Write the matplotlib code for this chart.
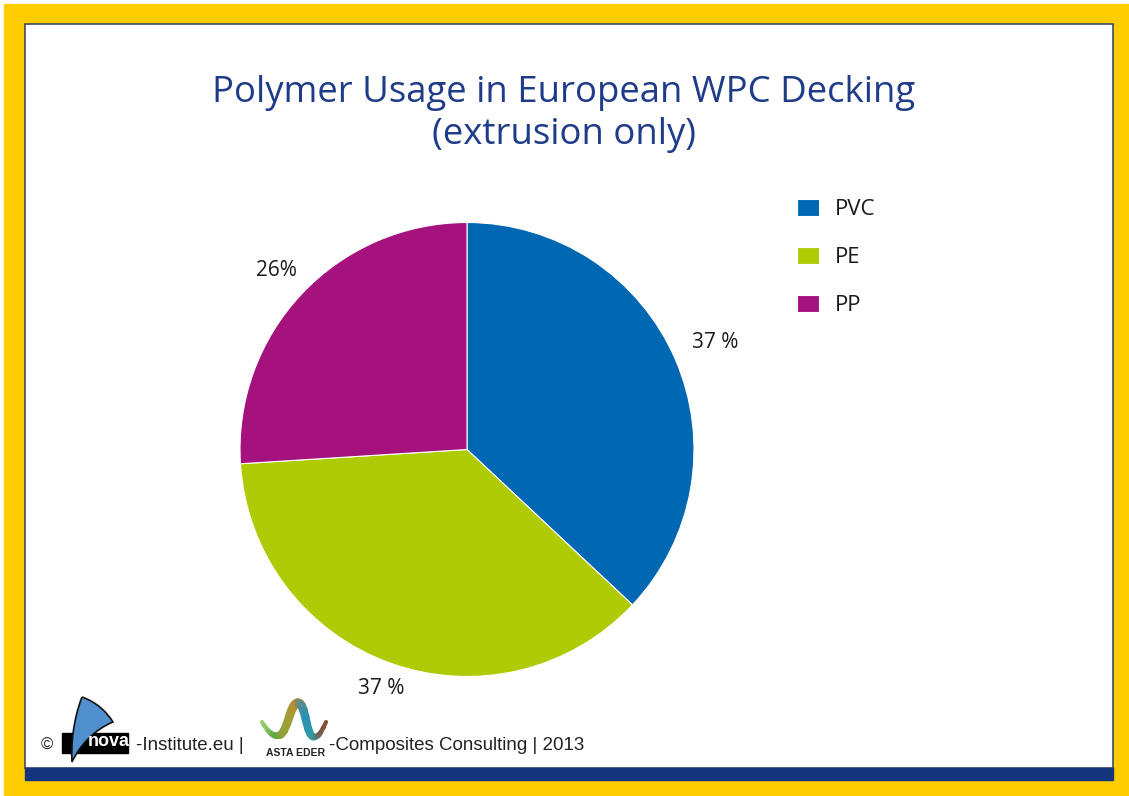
import matplotlib
matplotlib.use("Agg")
import matplotlib.pyplot as plt
import numpy as np
from matplotlib.patches import Rectangle, PathPatch
from matplotlib.collections import LineCollection
from matplotlib.path import Path
from matplotlib.colors import LinearSegmentedColormap

# ---- data ----
categories = ["PVC", "PE", "PP"]
shares = [37, 37, 26]
label_texts = ["37 %", "37 %", "26%"]
colors = ["#0068B3", "#AFCB05", "#A5127E"]
title = "Polymer Usage in European WPC Decking\n(extrusion only)"
footer_left = "-Institute.eu |"
footer_right = "-Composites Consulting | 2013"

W, H = 1129, 796
fig = plt.figure(figsize=(W / 100, H / 100), dpi=100)
fig.patch.set_facecolor("white")

# background / frame in pixel coordinates
bg = fig.add_axes([0, 0, 1, 1])
bg.set_xlim(0, W)
bg.set_ylim(H, 0)
bg.axis("off")
bg.add_patch(Rectangle((4, 4), W - 4, H - 4, color="#FFCC00", zorder=0))
bg.add_patch(Rectangle((25, 24), 1088, 744, facecolor="white",
                       edgecolor="#3b4a6b", lw=1.2, zorder=1))
bg.add_patch(Rectangle((25, 768), 1088, 12, color="#15367F", zorder=2))

# title
fig.text(564 / W, 1 - 114 / H, title, ha="center", va="center",
         fontsize=26.3, color="#1F3C88", family="Open Sans", linespacing=1.22)

# pie
cx, cy, r = 467, 449.5, 227
ax = fig.add_axes([(cx - r) / W, (H - cy - r) / H, 2 * r / W, 2 * r / H])
wedges, _ = ax.pie(shares, colors=colors, startangle=90, counterclock=False,
                   radius=1, wedgeprops=dict(linewidth=0.8, edgecolor="white"))
ax.set_xlim(-1, 1)
ax.set_ylim(-1, 1)
label_dist = [1.19, 1.12, 1.15]
for w, txt, d in zip(wedges, label_texts, label_dist):
    a = np.deg2rad((w.theta1 + w.theta2) / 2)
    ax.text(d * np.cos(a), d * np.sin(a), txt, ha="center", va="center",
            fontsize=15, color="#1a1a1a", family="Open Sans")

# legend
leg = fig.legend(wedges, categories, loc="upper left",
                 bbox_to_anchor=(797 / W, 1 - 199 / H), bbox_transform=fig.transFigure,
                 frameon=False, borderaxespad=0, borderpad=0,
                 handlelength=1.0, handleheight=0.8, handletextpad=0.7,
                 labelspacing=1.2, prop=dict(family="Open Sans", size=16))
for t in leg.get_texts():
    t.set_color("#1a1a1a")

# footer
ffam = ["Liberation Sans", "DejaVu Sans"]
fig.text(47 / W, 1 - 745 / H, "\u00a9", ha="center", va="center", fontsize=12,
         color="#222", family=ffam)
bg.add_patch(Rectangle((62, 733), 66, 20, color="black", zorder=3))
sail = Path([(82, 697), (96, 702), (106, 711), (113, 722),
             (94, 730), (80, 745), (72, 762),
             (71, 745), (73, 720), (82, 697)],
            [Path.MOVETO, Path.CURVE4, Path.CURVE4, Path.CURVE4,
             Path.CURVE4, Path.CURVE4, Path.CURVE4,
             Path.CURVE4, Path.CURVE4, Path.CURVE4])
bg.add_patch(PathPatch(sail, facecolor="#4F8FCE", edgecolor="#111", lw=1.2, zorder=4))
bg.text(109, 742, "nova", ha="center", va="center", color="white", fontsize=13,
        fontweight="bold", family=ffam, zorder=6)
bg.text(136, 745, footer_left, ha="left", va="center", fontsize=13.5, color="#222",
        family=ffam, zorder=5)

wave = Path([(262, 722), (268, 732), (274, 738), (280, 735),
             (288, 731), (290, 703), (298, 703),
             (306, 703), (306, 737), (314, 737),
             (320, 737), (323, 728), (326, 722)],
            [Path.MOVETO] + [Path.CURVE4] * 12)
pts = wave.to_polygons(closed_only=False)[0]
segs = np.stack([pts[:-1], pts[1:]], axis=1)
n = len(segs)
cmap = LinearSegmentedColormap.from_list(
    "asta", ["#9ccf6a", "#5aa845", "#9aa238", "#c08a2e", "#2a8fb5", "#2fa0a0", "#8a4a35"])
tpos = np.linspace(0, 1, n)
widths = 3.0 + 3.5 * np.sin(np.pi * tpos)
lc = LineCollection(segs, colors=cmap(tpos), linewidths=widths, capstyle="round", zorder=5)
bg.add_collection(lc)
bg.text(295, 753, "ASTA EDER", ha="center", va="center", fontsize=7.5,
        fontweight="bold", color="#222", family=ffam, zorder=5)
bg.text(329, 745, footer_right, ha="left", va="center", fontsize=13.5, color="#222",
        family=ffam, zorder=5)

fig.savefig("out.png", dpi=100)
